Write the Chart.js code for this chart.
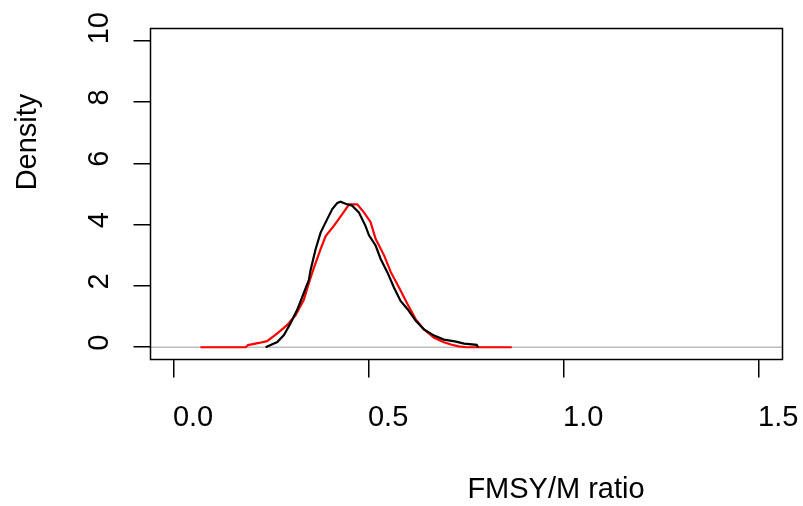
<!DOCTYPE html>
<html>
<head>
<meta charset="utf-8">
<script src="https://cdn.jsdelivr.net/npm/chart.js@4.4.1/dist/chart.umd.min.js"></script>
<style>
  body { margin: 0; background: #fff; }
  #wrap { width: 803px; height: 506px; }
</style>
</head>
<body>
<div id="wrap"><canvas id="densityChart" width="803" height="506"></canvas></div>
<script>
// values
const blackX = [0.235, 0.265, 0.282, 0.299, 0.316, 0.333, 0.346, 0.35, 0.363, 0.376, 0.393, 0.406, 0.419, 0.427, 0.44, 0.457, 0.474, 0.491, 0.5, 0.517, 0.53, 0.547, 0.564, 0.581, 0.599, 0.62, 0.641, 0.667, 0.692, 0.72, 0.744, 0.776, 0.78];
const blackY = [0, 0.17, 0.4, 0.78, 1.22, 1.77, 2.2, 2.5, 3.19, 3.74, 4.18, 4.51, 4.71, 4.75, 4.68, 4.62, 4.4, 3.96, 3.65, 3.32, 2.88, 2.45, 1.95, 1.51, 1.24, 0.86, 0.58, 0.38, 0.25, 0.19, 0.12, 0.08, 0];
const redX = [0.068, 0.184, 0.19, 0.218, 0.239, 0.265, 0.29, 0.312, 0.333, 0.342, 0.35, 0.359, 0.376, 0.389, 0.41, 0.432, 0.449, 0.47, 0.487, 0.504, 0.517, 0.539, 0.556, 0.577, 0.599, 0.62, 0.641, 0.667, 0.692, 0.71, 0.73, 0.75, 0.866];
const redY = [0, 0, 0.07, 0.14, 0.2, 0.45, 0.72, 1.05, 1.55, 1.93, 2.25, 2.6, 3.2, 3.63, 3.96, 4.35, 4.66, 4.66, 4.4, 4.09, 3.54, 2.99, 2.45, 1.95, 1.4, 0.91, 0.58, 0.31, 0.16, 0.09, 0.03, 0, 0];
const xTicks = [0, 0.5, 1, 1.5];
const xTickLabels = ['0.0', '0.5', '1.0', '1.5'];
const yTicks = [0, 2, 4, 6, 8, 10];
const yTickLabels = ['0', '2', '4', '6', '8', '10'];

const FONT = '29px "Liberation Sans", Arial, sans-serif';

function toPoints(xs, ys) {
  return xs.map((x, i) => ({ x: x, y: ys[i] }));
}

// box, zero line and R-style labels
const rPlot = {
  id: 'rPlot',
  beforeDatasetsDraw(chart) {
    const { ctx, chartArea: a, scales: { y } } = chart;
    const y0 = y.getPixelForValue(0);
    ctx.save();
    ctx.strokeStyle = '#bebebe';
    ctx.lineWidth = 1.5;
    ctx.beginPath();
    ctx.moveTo(a.left, y0);
    ctx.lineTo(a.right, y0);
    ctx.stroke();
    ctx.restore();
  },
  afterDraw(chart) {
    const { ctx, chartArea: a, scales: { x, y } } = chart;
    ctx.save();
    ctx.strokeStyle = '#000';
    ctx.lineWidth = 1.5;
    ctx.strokeRect(a.left, a.top, a.right - a.left, a.bottom - a.top);

    ctx.fillStyle = '#000';
    ctx.font = FONT;
    ctx.textBaseline = 'alphabetic';
    ctx.textAlign = 'left';
    xTicks.forEach((v, i) => {
      ctx.fillText(xTickLabels[i], x.getPixelForValue(v) - 1, 426);
    });

    yTicks.forEach((v, i) => {
      ctx.save();
      ctx.translate(108, y.getPixelForValue(v) + 3.5);
      ctx.rotate(-Math.PI / 2);
      ctx.fillText(yTickLabels[i], 0, 0);
      ctx.restore();
    });

    ctx.textAlign = 'center';
    ctx.fillText('FMSY/M ratio', 556, 498);
    ctx.save();
    ctx.translate(36, 142);
    ctx.rotate(-Math.PI / 2);
    ctx.fillText('Density', 0, 0);
    ctx.restore();
    ctx.restore();
  }
};

new Chart(document.getElementById('densityChart'), {
  type: 'scatter',
  data: {
    datasets: [
      {
        label: 'black',
        data: toPoints(blackX, blackY),
        showLine: true,
        borderColor: '#000',
        borderWidth: 2.2,
        pointRadius: 0,
        tension: 0
      },
      {
        label: 'red',
        data: toPoints(redX, redY),
        showLine: true,
        borderColor: '#ff0000',
        borderWidth: 2.2,
        pointRadius: 0,
        tension: 0
      }
    ]
  },
  options: {
    responsive: false,
    animation: false,
    layout: { padding: { top: 28.5, right: 20.5, left: 0, bottom: 0 } },
    plugins: { legend: { display: false }, tooltip: { enabled: false } },
    scales: {
      x: {
        type: 'linear',
        min: -0.06,
        max: 1.56,
        afterBuildTicks: axis => { axis.ticks = xTicks.map(v => ({ value: v })); },
        afterFit: axis => { axis.height = 146.5; },
        ticks: { display: false },
        border: { display: false },
        grid: { drawOnChartArea: false, drawTicks: true, tickLength: 18, color: '#000', lineWidth: 1.5 }
      },
      y: {
        type: 'linear',
        min: -0.4,
        max: 10.4,
        afterBuildTicks: axis => { axis.ticks = yTicks.map(v => ({ value: v })); },
        afterFit: axis => { axis.width = 150.5; },
        ticks: { display: false },
        border: { display: false },
        grid: { drawOnChartArea: false, drawTicks: true, tickLength: 17, color: '#000', lineWidth: 1.5 }
      }
    }
  },
  plugins: [rPlot]
});
</script>
</body>
</html>
